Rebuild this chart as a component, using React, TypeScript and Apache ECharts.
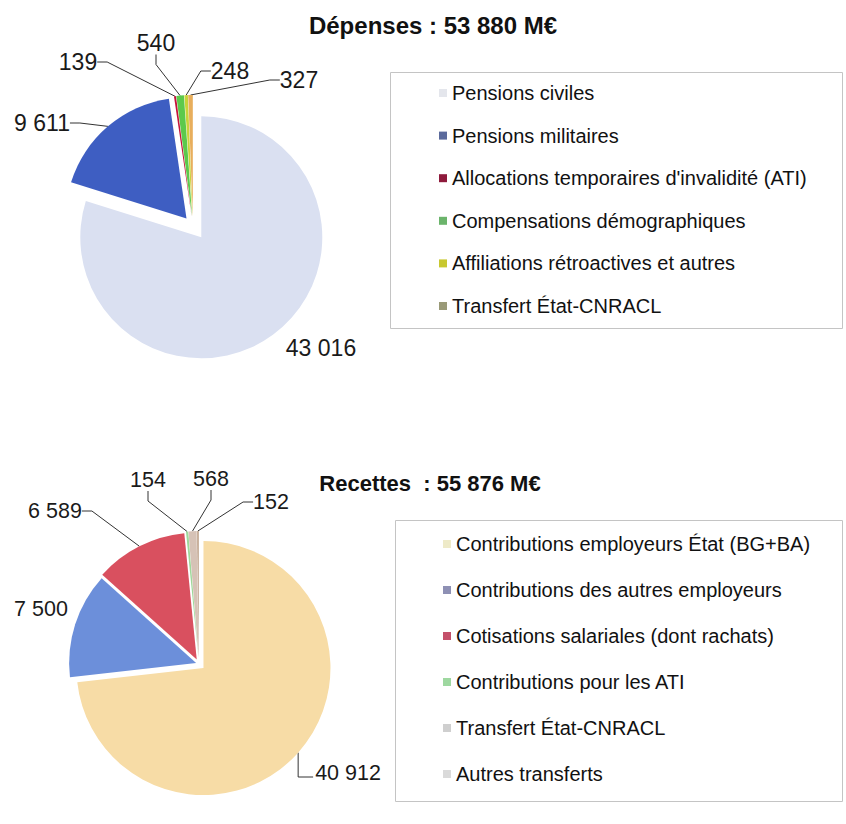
import React, { useEffect, useRef } from "react";
import * as echarts from "echarts";

// ---- Data ----
const depensesTitle = "Dépenses : 53 880 M€";
const depensesNames = [
  "Pensions civiles",
  "Pensions militaires",
  "Allocations temporaires d'invalidité (ATI)",
  "Compensations démographiques",
  "Affiliations rétroactives et autres",
  "Transfert État-CNRACL",
];
const depensesValues = [43016, 9611, 139, 540, 248, 327];

const recettesTitle = "Recettes  : 55 876 M€";
const recettesNames = [
  "Contributions employeurs État (BG+BA)",
  "Contributions des autres employeurs",
  "Cotisations salariales (dont rachats)",
  "Contributions pour les ATI",
  "Transfert État-CNRACL",
  "Autres transferts",
];
const recettesValues = [40912, 7500, 6589, 154, 568, 152];

// ---- Styles ----
const depensesColors = ["#DAE0F1", "#3E5EC2", "#C4123A", "#5CC94C", "#C9D33A", "#E8AE5C"];
const depensesLegendColors = ["#E4E6EC", "#5B6A9C", "#8E1A3C", "#6BB46B", "#C8C830", "#9A9A78"];
const recettesColors = ["#F7DCA6", "#6C8FDA", "#D9505F", "#9ED99A", "#D6C2B6", "#C8B09C"];
const recettesLegendColors = ["#EEEAC8", "#8E90B4", "#C4506A", "#9ED8A0", "#CFCFCF", "#DADADA"];

// explosion offset of each slice (px)
const depensesExplode = [14, 10, 10, 10, 10, 10];
const recettesExplode = [6, 3, 5, 6, 6, 6];

// label centres (px)
const depensesLabelPos = [
  [321, 348],
  [42, 123],
  [78, 62],
  [156, 43],
  [230, 71],
  [299, 80],
];
const recettesLabelPos = [
  [348, 773],
  [41, 609],
  [55, 511],
  [148, 480],
  [211, 479],
  [271, 502],
];

const FONT = "'Liberation Sans', Arial, sans-serif";

function fmt(v: number): string {
  return String(v).replace(/\B(?=(\d{3})+(?!\d))/g, " ");
}

function makePieGroup(
  names: string[],
  values: number[],
  colors: string[],
  explode: number[],
  labelPos: number[][],
  center: number[],
  radius: number,
  noLine: number[],
  elbow: number[],
  fontSize: number
) {
  const total = values.reduce((a, b) => a + b, 0);
  let cum = 0;
  const series: any[] = [];
  values.forEach((v, i) => {
    const mid = ((cum + v / 2) / total) * Math.PI * 2; // clockwise from 12 o'clock
    cum += v;
    const dx = Math.sin(mid) * explode[i];
    const dy = -Math.cos(mid) * explode[i];
    series.push({
      type: "pie",
      center: [center[0] + dx, center[1] + dy],
      radius,
      startAngle: 90,
      clockwise: true,
      silent: true,
      avoidLabelOverlap: false,
      emphasis: { disabled: true },
      label: {
        show: false,
        position: "outside",
        formatter: (p: any) => fmt(p.value),
        fontFamily: FONT,
        fontSize,
        color: "#1a1a1a",
      },
      labelLine: {
        show: false,
        length: 10,
        length2: 10,
        lineStyle: { color: "#333", width: 1 },
      },
      labelLayout: (params: any) => {
        if (params.dataIndex !== i) return {};
        const pos = labelPos[i];
        const res: any = { x: pos[0], y: pos[1], align: "center", verticalAlign: "middle" };
        if (elbow.indexOf(i) >= 0 && params.labelLinePoints && params.labelRect) {
          const p0 = params.labelLinePoints[0];
          const halfW = params.labelRect.width / 2;
          res.labelLinePoints = [
            [p0[0], p0[1]],
            [p0[0], pos[1] + 4],
            [pos[0] - halfW - 2, pos[1] + 4],
          ];
        }
        return res;
      },
      itemStyle: { borderWidth: 0 },
      data: names.map((n, j) => ({
        name: n,
        value: values[j],
        itemStyle: { color: j === i ? colors[j] : "rgba(0,0,0,0)" },
        label: { show: j === i },
        labelLine: { show: j === i && noLine.indexOf(j) < 0 },
      })),
    });
  });
  return series;
}

function makeLegend(names: string[], colors: string[], left: number, top: number, gap: number) {
  return {
    orient: "vertical",
    left,
    top,
    itemGap: gap,
    itemWidth: 8,
    itemHeight: 8,
    icon: "rect",
    selectedMode: false,
    textStyle: { fontFamily: FONT, fontSize: 20, color: "#111", lineHeight: 20 },
    data: names.map((n, i) => ({ name: n, itemStyle: { color: colors[i] } })),
  };
}

export default function App() {
  const ref = useRef<HTMLDivElement>(null);
  useEffect(() => {
    if (!ref.current) return;
    const chart = echarts.init(ref.current, null, { renderer: "svg" });
    chart.setOption({
      animation: false,
      backgroundColor: "#ffffff",
      graphic: [
        {
          type: "rect",
          shape: { x: 390.5, y: 72.5, width: 452, height: 256 },
          style: { fill: "none", stroke: "#c4c4c4", lineWidth: 1 },
          silent: true,
        },
        {
          type: "rect",
          shape: { x: 395.5, y: 520.5, width: 447, height: 281 },
          style: { fill: "none", stroke: "#c4c4c4", lineWidth: 1 },
          silent: true,
        },
        {
          type: "text",
          x: 433,
          y: 25,
          style: {
            text: depensesTitle,
            fontFamily: FONT,
            fontSize: 24,
            fontWeight: "bold",
            fill: "#111",
            textAlign: "center",
            textVerticalAlign: "middle",
          },
        },
        {
          type: "text",
          x: 430,
          y: 483,
          style: {
            text: recettesTitle,
            fontFamily: FONT,
            fontSize: 22,
            fontWeight: "bold",
            fill: "#111",
            textAlign: "center",
            textVerticalAlign: "middle",
          },
        },
      ],
      legend: [
        makeLegend(depensesNames, depensesLegendColors, 434, 78, 22.6),
        makeLegend(recettesNames, recettesLegendColors, 438, 529, 26),
      ],
      series: [
        ...makePieGroup(depensesNames, depensesValues, depensesColors, depensesExplode,
          depensesLabelPos, [193, 226], 121, [0], [], 23),
        ...makePieGroup(recettesNames, recettesValues, recettesColors, recettesExplode,
          recettesLabelPos, [199, 664], 127, [1], [0], 21.5),
      ],
    });
    return () => chart.dispose();
  }, []);
  return (
    <div
      ref={ref}
      style={{ position: "absolute", left: 0, top: 0, width: 846, height: 824 }}
    />
  );
}
